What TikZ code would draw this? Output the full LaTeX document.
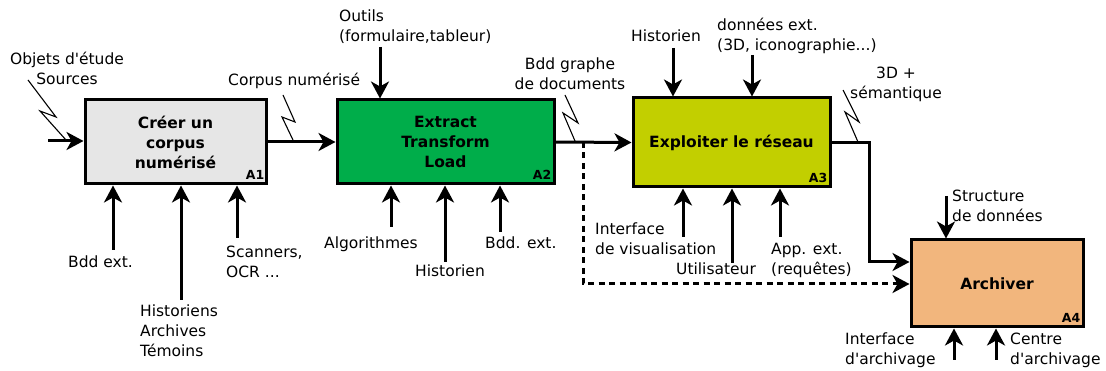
\documentclass[tikz,border=0pt]{standalone}
\usepackage{fontspec}
\setmainfont{DejaVu Sans}[Ligatures=TeXOff]
\usetikzlibrary{arrows.meta}
\definecolor{cA1}{HTML}{E6E6E6}
\definecolor{cA2}{HTML}{00AD4A}
\definecolor{cA3}{HTML}{C2CF00}
\definecolor{cA4}{HTML}{F2B67D}
\begin{document}
\begin{tikzpicture}[x=1pt,y=-1pt,
  txt/.style={inner sep=0pt, font=\fontsize{15.5}{20}\selectfont, align=left},
  box/.style={draw=black, line width=3pt, font=\fontsize{15.5}{20}\selectfont\bfseries, align=center, inner sep=0pt},
  arr/.style={line width=3pt, -{Stealth[length=17pt,width=18pt,inset=5pt]}},
  bolt/.style={line width=1.1pt},
  dsh/.style={arr, dash pattern=on 6pt off 4.5pt},
  tag/.style={font=\fontsize{12.5}{13}\selectfont\bfseries, inner sep=0pt}
]
\useasboundingbox (0,0) rectangle (1106,371);

% boxes
\node[box, fill=cA1, minimum width=181pt, minimum height=84pt] (A1) at (175.5,142) {Créer un\\corpus\\numérisé};
\node[box, fill=cA2, minimum width=217pt, minimum height=84pt] (A2) at (445.5,142) {Extract\\Transform\\Load};
\node[box, fill=cA3, minimum width=197pt, minimum height=89pt] (A3) at (731.5,142.5) {Exploiter le réseau};
\node[box, fill=cA4, minimum width=172pt, minimum height=87pt] (A4) at (997,283.5) {Archiver};

\node[tag, anchor=base east] (t1) at ([shift={(-3,-6)}]A1.south east) {A1};
\node[tag, anchor=base east] (t2) at ([shift={(-4,-6)}]A2.south east) {A2};
\node[tag, anchor=base east] (t3) at ([shift={(-4,-6)}]A3.south east) {A3};
\node[tag, anchor=base east] (t4) at ([shift={(-4,-6)}]A4.south east) {A4};

% texts
\node[txt, anchor=north, align=center] (src) at (67,52) {Objets d'étude\\Sources};
\node[txt, anchor=north west] (corp) at (228,73) {Corpus numérisé};
\node[txt, anchor=north west] (outils) at (339,10) {Outils\\(formulaire,tableur)};
\node[txt, anchor=north, align=center] (bddg) at (570,58) {Bdd graphe\\de documents};
\node[txt, anchor=north] (hist3) at (666,30) {Historien};
\node[txt, anchor=north west] (dext) at (717,18) {données ext.\\(3D, iconographie...)};
\node[txt, anchor=north, align=center] (sem) at (896,67) {3D +\\sémantique};
\node[txt, anchor=north west] (struct) at (952,190) {Structure\\de données};
\node[txt, anchor=north west] (iarch) at (845,333) {Interface\\d'archivage};
\node[txt, anchor=north west] (carch) at (1010,333) {Centre\\d'archivage};
\node[txt, anchor=north west] (bdd1) at (68,256) {Bdd ext.};
\node[txt, anchor=north west] (hist1) at (140,305) {Historiens\\Archives\\Témoins};
\node[txt, anchor=north west] (scan) at (226,246) {Scanners,\\OCR ...};
\node[txt, anchor=north west] (algo) at (324,237) {Algorithmes};
\node[txt, anchor=north west] (hist2) at (415,265) {Historien};
\node[txt, anchor=north west] (bdd2) at (485,237) {Bdd. ext.};
\node[txt, anchor=north west] (ivis) at (595,223) {Interface\\de visualisation};
\node[txt, anchor=north west] (util) at (676,263) {Utilisateur};
\node[txt, anchor=north west] (app) at (771,243) {App. ext.\\(requêtes)};

% free ends
\coordinate (in) at (48,141);
\coordinate (br) at (583,142);
\coordinate (d1) at (583,284);
\coordinate (k) at (869,262);
\coordinate (o2) at (380,47);
\coordinate (h3) at (673,48);
\coordinate (e3) at (752,55);
\coordinate (s4) at (946,196);
\coordinate (b1) at (113,250);
\coordinate (b2) at (181,300);
\coordinate (b3) at (237,238);
\coordinate (b4) at (391,227);
\coordinate (b5) at (445,262);
\coordinate (b6) at (500,232);
\coordinate (b7) at (683,237);
\coordinate (b8) at (732,263);
\coordinate (b9) at (780,237);
\coordinate (b10) at (954,360);
\coordinate (b11) at (996,360);

% main flow
\draw[arr] (in) -- (in -| A1.west);
\draw[arr] (A1.east) -- (A2.west);
\draw[arr] (A2.east) -- (A3.west);
\draw[dsh] (br) -- (d1) -- (d1 -| A4.west);
\draw[arr] (A3.east) -| (k) -- (k -| A4.west);

% top arrows
\draw[arr] (o2) -- (o2 |- A2.north);
\draw[arr] (h3) -- (h3 |- A3.north);
\draw[arr] (e3) -- (e3 |- A3.north);
\draw[arr] (s4) -- (s4 |- A4.north);

% bottom arrows
\foreach \c/\b in {b1/A1,b2/A1,b3/A1,b4/A2,b5/A2,b6/A2,b7/A3,b8/A3,b9/A3,b10/A4,b11/A4}
  \draw[arr] (\c) -- (\c |- \b.south);

% squiggles
\draw[bolt] (28,80) -- (56,117) -- (40,111) -- (66,140);
\draw[bolt] (283,95) -- (295,122) -- (282,117) -- (293,140);
\draw[bolt] (565,95) -- (578,123) -- (563,113) -- (575,141);
\draw[bolt] (843,90) -- (859,122) -- (845,112) -- (858,142);
\end{tikzpicture}
\end{document}
